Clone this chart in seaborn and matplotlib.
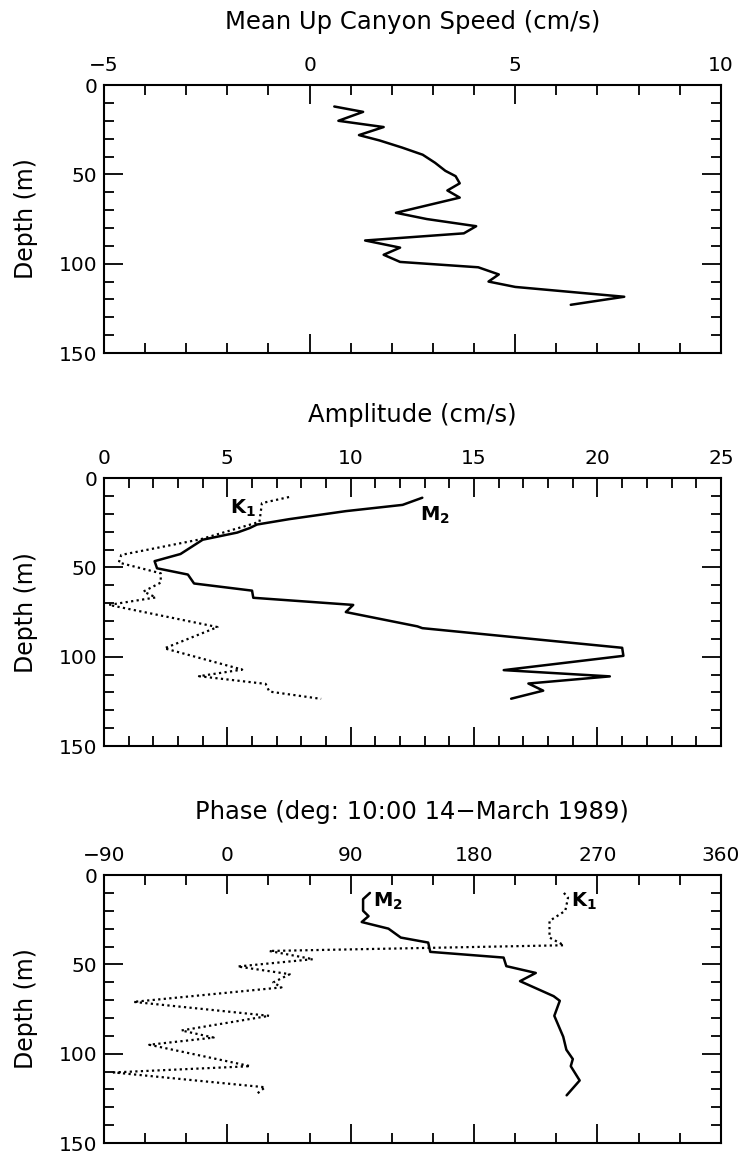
import matplotlib
matplotlib.use("Agg")
import matplotlib.pyplot as plt
import pandas as pd
import seaborn as sns
from matplotlib.ticker import MultipleLocator

# Mean up-canyon speed profile
speed_depth = [12, 15, 20, 23.5, 28, 31, 35, 39, 43.5, 48, 51, 55, 59, 63, 71.5, 75,
               79, 83, 87, 91, 95, 99, 102, 106, 110, 113, 118.5, 123]
speed_mean = [0.6, 1.3, 0.7, 1.8, 1.2, 1.7, 2.25, 2.75, 3.05, 3.3, 3.55, 3.65, 3.35,
              3.65, 2.1, 2.85, 4.05, 3.75, 1.35, 2.2, 1.8, 2.2, 4.1, 4.6, 4.35, 5.0,
              7.65, 6.35]

# Tidal amplitude profiles
amp_depth_m2 = [11, 15, 18.5, 23, 26, 28, 30.5, 34.5, 42.5, 46.5, 50.5, 54, 59, 63, 67,
                71, 75, 83, 84, 95, 99.5, 107.5, 111, 115, 119, 123.5]
amp_m2 = [12.9, 12.1, 9.8, 7.5, 6.2, 5.9, 5.4, 4.0, 3.1, 2.05, 2.15, 3.4, 3.65, 6.0,
          6.05, 10.1, 9.8, 12.7, 12.9, 21.0, 21.05, 16.2, 20.5, 17.2, 17.8, 16.5]
amp_depth_k1 = [10.6, 14, 24.5, 34.3, 43, 47.3, 53.3, 58.5, 63.5, 66.8, 71, 83.4, 95.3,
                107.2, 110.9, 115.2, 119.5, 123.6]
amp_k1 = [7.5, 6.4, 6.3, 3.9, 0.7, 0.6, 2.3, 2.3, 1.6, 2.1, 0.2, 4.6, 2.45, 5.6, 3.85,
          6.55, 6.7, 8.8]

# Tidal phase profiles
phase_depth_m2 = [10, 13.5, 20, 23, 26.3, 30, 35, 37.8, 43, 46.2, 51, 54.8, 59.4, 67.8,
                  70.4, 78.8, 90.5, 97.8, 103, 107, 115, 123.3]
phase_m2 = [104, 99, 99, 103, 98, 117.5, 126.5, 146.5, 148, 201.5, 203.5, 225, 213.5,
            238, 242.5, 238.5, 245, 247.3, 252, 250.5, 257, 247.5]
phase_depth_k1 = [10, 12.7, 20, 25.7, 35, 39.3, 42.5, 47.1, 51.2, 55.5, 60.1, 62.9, 71,
                  78.8, 87, 91, 95, 107, 110.5, 118.8, 122.5]
phase_k1 = [245.5, 248.5, 246.5, 235, 235, 245.5, 30.5, 62.5, 7.5, 45.5, 33.5, 39.5,
            -68.5, 30.5, -33.5, -10, -57, 16.8, -83, 27.5, 21.5]

titles = ["Mean Up Canyon Speed (cm/s)", "Amplitude (cm/s)",
          "Phase (deg: 10:00 14\u2212March 1989)"]
xlims = [(-5, 10), (0, 25), (-90, 360)]
xmajor = [5, 5, 90]
xminor = [1, 1, 30]

sns.set_style("ticks")
plt.rcParams["font.family"] = ["DejaVu Sans"]
plt.rcParams["mathtext.fontset"] = "dejavusans"
plt.rcParams["text.color"] = "black"

fig = plt.figure(figsize=(7.45, 11.59), dpi=100)
bottoms = [0.6954, 0.3563, 0.0138]
axes = [fig.add_axes([0.1396, b, 0.828, 0.2312]) for b in bottoms]

solid = dict(color="black", linewidth=1.8, sort=False, estimator=None)
dotted = dict(color="black", linewidth=1.6, sort=False, estimator=None,
              dashes=False, linestyle=(0, (1, 1.5)))

sns.lineplot(x=speed_mean, y=speed_depth, ax=axes[0], **solid)

sns.lineplot(x=amp_m2, y=amp_depth_m2, ax=axes[1], **solid)
sns.lineplot(x=amp_k1, y=amp_depth_k1, ax=axes[1], **dotted)
axes[1].text(6.15, 17, r"$\mathbf{K_1}$", ha="right", va="center", fontsize=14)
axes[1].text(12.8, 21, r"$\mathbf{M_2}$", ha="left", va="center", fontsize=14)

sns.lineplot(x=phase_m2, y=phase_depth_m2, ax=axes[2], **solid)
sns.lineplot(x=phase_k1, y=phase_depth_k1, ax=axes[2], **dotted)
axes[2].text(106, 15, r"$\mathbf{M_2}$", ha="left", va="center", fontsize=14)
axes[2].text(251, 15, r"$\mathbf{K_1}$", ha="left", va="center", fontsize=14)

for ax, title, xl, maj, mnr in zip(axes, titles, xlims, xmajor, xminor):
    ax.set_xlim(*xl)
    ax.set_ylim(150, 0)
    ax.xaxis.set_major_locator(MultipleLocator(maj))
    ax.xaxis.set_minor_locator(MultipleLocator(mnr))
    ax.yaxis.set_major_locator(MultipleLocator(50))
    ax.yaxis.set_minor_locator(MultipleLocator(10))
    ax.tick_params(axis="both", which="both", direction="in", top=True, bottom=True,
                   left=True, right=True, labeltop=True, labelbottom=False,
                   labelleft=True, labelright=False, width=1.3, colors="black",
                   labelcolor="black", labelsize=14.5)
    ax.tick_params(axis="both", which="major", length=13.5)
    ax.tick_params(axis="both", which="minor", length=7)
    ax.tick_params(axis="x", which="major", pad=7)
    ax.tick_params(axis="y", which="major", pad=5)
    for sp in ax.spines.values():
        sp.set_visible(True)
        sp.set_linewidth(1.5)
        sp.set_color("black")
    ax.set_xlabel("")
    ax.set_ylabel("")
    ax.text(0.5, 1.235, title, transform=ax.transAxes, ha="center", va="center",
            fontsize=17.5, color="black")
    ax.text(-0.126, 0.5, "Depth (m)", transform=ax.transAxes, rotation=90,
            ha="center", va="center", fontsize=17, color="black")

fig.savefig("out.png", dpi=100)
